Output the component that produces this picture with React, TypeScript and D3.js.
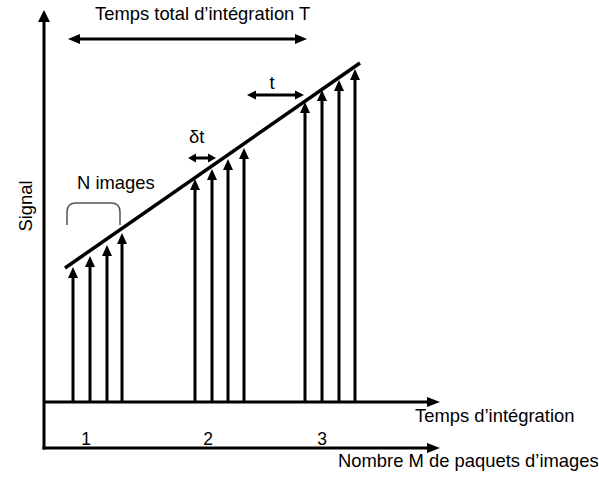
import React from "react";
import * as d3 from "d3";

const W = 599;
const H = 481;

// time (arbitrary units) of each image pulse and its signal level
const pulseTimes = [29, 46, 63, 78, 151, 168, 184, 200, 261, 278, 295, 311];
const pulseSignals = [135, 146, 157, 169, 223, 233, 243, 254, 300, 312, 322, 333];
// fitted integration line
const lineTimes = [21, 316];
const lineSignals = [134, 339];
// packet labels
const packetLabels = ["1", "2", "3"];
const packetTimes = [42, 164, 278];

const xScale = d3.scaleLinear().domain([0, 396]).range([44, 440]);
const yScale = d3.scaleLinear().domain([0, 392]).range([402, 10]);

const FONT = "'Liberation Sans', Arial, sans-serif";

function headUp(x: number, y: number, w: number, h: number) {
  return `M${x},${y} L${x - w / 2},${y + h} L${x + w / 2},${y + h} Z`;
}
function headRight(x: number, y: number, l: number, w: number) {
  return `M${x},${y} L${x - l},${y - w / 2} L${x - l},${y + w / 2} Z`;
}
function headLeft(x: number, y: number, l: number, w: number) {
  return `M${x},${y} L${x + l},${y - w / 2} L${x + l},${y + w / 2} Z`;
}

function DoubleArrow({ t0, t1, s, sw = 3, l = 10, w = 9 }: any) {
  const x0 = xScale(t0);
  const x1 = xScale(t1);
  const y = yScale(s);
  return (
    <g>
      <line x1={x0 + l - 1} x2={x1 - l + 1} y1={y} y2={y} stroke="#000" strokeWidth={sw} />
      <path d={headLeft(x0, y, l, w)} fill="#000" />
      <path d={headRight(x1, y, l, w)} fill="#000" />
    </g>
  );
}

export default function App() {
  const y0 = yScale(0);
  const yM = yScale(-46);
  const xAxis = xScale(0);
  const xEnd = xScale(396);
  const bx0 = xScale(23);
  const bx1 = xScale(76);
  const byBot = yScale(177);
  const byTop = yScale(199);
  const r = 9;
  const lineGen = d3
    .line<number>()
    .x((_, i) => xScale(lineTimes[i]))
    .y((d) => yScale(d));
  return (
    <svg
      width={W}
      height={H}
      style={{ position: "absolute", left: 0, top: 0, background: "#fff" }}
      fontFamily={FONT}
    >
      <rect width={W} height={H} fill="#fff" />
      {/* Signal axis */}
      <line x1={xAxis} x2={xAxis} y1={yM + 1.5} y2={yScale(382)} stroke="#000" strokeWidth={3} />
      <path d={headUp(xAxis, yScale(392), 12, 12)} fill="#000" />
      {/* Temps d'intégration axis */}
      <line x1={xAxis} x2={xEnd - 10} y1={y0} y2={y0} stroke="#000" strokeWidth={3} />
      <path d={headRight(xEnd, y0, 13, 10)} fill="#000" />
      {/* Nombre M axis */}
      <line x1={xAxis - 1.5} x2={xEnd - 10} y1={yM} y2={yM} stroke="#000" strokeWidth={3} />
      <path d={headRight(xEnd, yM, 13, 10)} fill="#000" />

      {/* pulses */}
      {pulseTimes.map((t, i) => {
        const x = xScale(t);
        const yt = yScale(pulseSignals[i]);
        return (
          <g key={i}>
            <line x1={x} x2={x} y1={y0} y2={yt + 8} stroke="#000" strokeWidth={3} />
            <path d={headUp(x, yt, 10, 11)} fill="#000" />
          </g>
        );
      })}

      {/* integration line */}
      <path d={lineGen(lineSignals) || ""} stroke="#000" strokeWidth={3.5} fill="none" />

      {/* bracket */}
      <path
        d={`M${bx0},${byBot} L${bx0},${byTop + r} Q${bx0},${byTop} ${bx0 + r},${byTop} L${bx1 - r},${byTop} Q${bx1},${byTop} ${bx1},${byTop + r} L${bx1},${byBot}`}
        stroke="#555"
        strokeWidth={1.5}
        fill="none"
      />

      {/* annotation arrows */}
      <DoubleArrow t0={24} t1={263} s={363} sw={3} l={12} w={10} />
      <DoubleArrow t0={144} t1={172} s={244} sw={3} l={8} w={9} />
      <DoubleArrow t0={203} t1={260} s={307} sw={3} l={9} w={9} />

      {/* texts */}
      <text x={95} y={20} fontSize={18.4} fill="#000">Temps total d’intégration T</text>
      <text x={189} y={143} fontSize={18.4} fill="#000">δt</text>
      <text x={272} y={89} fontSize={18.4} fill="#000" textAnchor="middle">t</text>
      <text x={77} y={189} fontSize={18.4} fill="#000">N images</text>
      <text
        transform={`translate(31.5,206) rotate(-90)`}
        fontSize={18.4}
        fill="#000"
        textAnchor="middle"
      >
        Signal
      </text>
      <text x={415} y={422} fontSize={18.4} fill="#000">Temps d’intégration</text>
      <text x={338} y={467} fontSize={18.4} fill="#000">Nombre M de paquets d’images</text>
      {packetLabels.map((lab, i) => (
        <text key={lab} x={xScale(packetTimes[i])} y={445} fontSize={17.5} fill="#000" textAnchor="middle">
          {lab}
        </text>
      ))}
    </svg>
  );
}
